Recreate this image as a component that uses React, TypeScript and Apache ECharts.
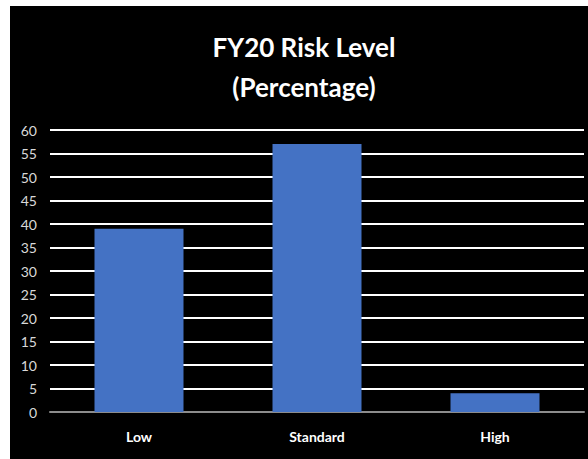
import React, { useEffect, useRef } from "react";
import * as echarts from "echarts";

const categories = ["Low", "Standard", "High"];
const values = [39, 57, 4];
const titleText = "FY20 Risk Level\n(Percentage)";

export default function App() {
  const ref = useRef<HTMLDivElement>(null);
  useEffect(() => {
    if (!ref.current) return;
    const chart = echarts.init(ref.current, null, { renderer: "svg" });
    const font = "Lato, sans-serif";
    chart.setOption({
      animation: false,
      backgroundColor: "#ffffff",
      graphic: [
        {
          type: "rect",
          left: 10,
          top: 6,
          z: -10,
          shape: { width: 578, height: 453 },
          style: { fill: "#000000" },
          silent: true,
        },
      ],
      title: {
        text: titleText,
        left: 299,
        top: 22,
        textAlign: "center",
        textStyle: {
          color: "#ffffff",
          fontFamily: font,
          fontWeight: "bold",
          fontSize: 26,
          lineHeight: 40,
        },
      },
      grid: { left: 50, right: 4, top: 130, bottom: 47 },
      xAxis: {
        type: "category",
        data: categories,
        axisLine: { show: true, lineStyle: { color: "#8c8c8c", width: 2 } },
        axisTick: { show: false },
        axisLabel: {
          color: "#ffffff",
          fontFamily: font,
          fontWeight: "bold",
          fontSize: 14,
          margin: 17,
        },
      },
      yAxis: {
        type: "value",
        min: 0,
        max: 60,
        interval: 5,
        axisLine: { show: false },
        axisTick: { show: false },
        axisLabel: {
          color: "#d9d9d9",
          fontFamily: font,
          fontSize: 14,
          margin: 13,
        },
        splitLine: { lineStyle: { color: "#ffffff", width: 2 } },
      },
      series: [
        {
          type: "bar",
          data: values,
          barWidth: "50%",
          itemStyle: { color: "#4472c4" },
        },
      ],
    });
    return () => chart.dispose();
  }, []);
  return (
    <div
      ref={ref}
      style={{ position: "fixed", left: 0, top: 0, width: 588, height: 459 }}
    />
  );
}
